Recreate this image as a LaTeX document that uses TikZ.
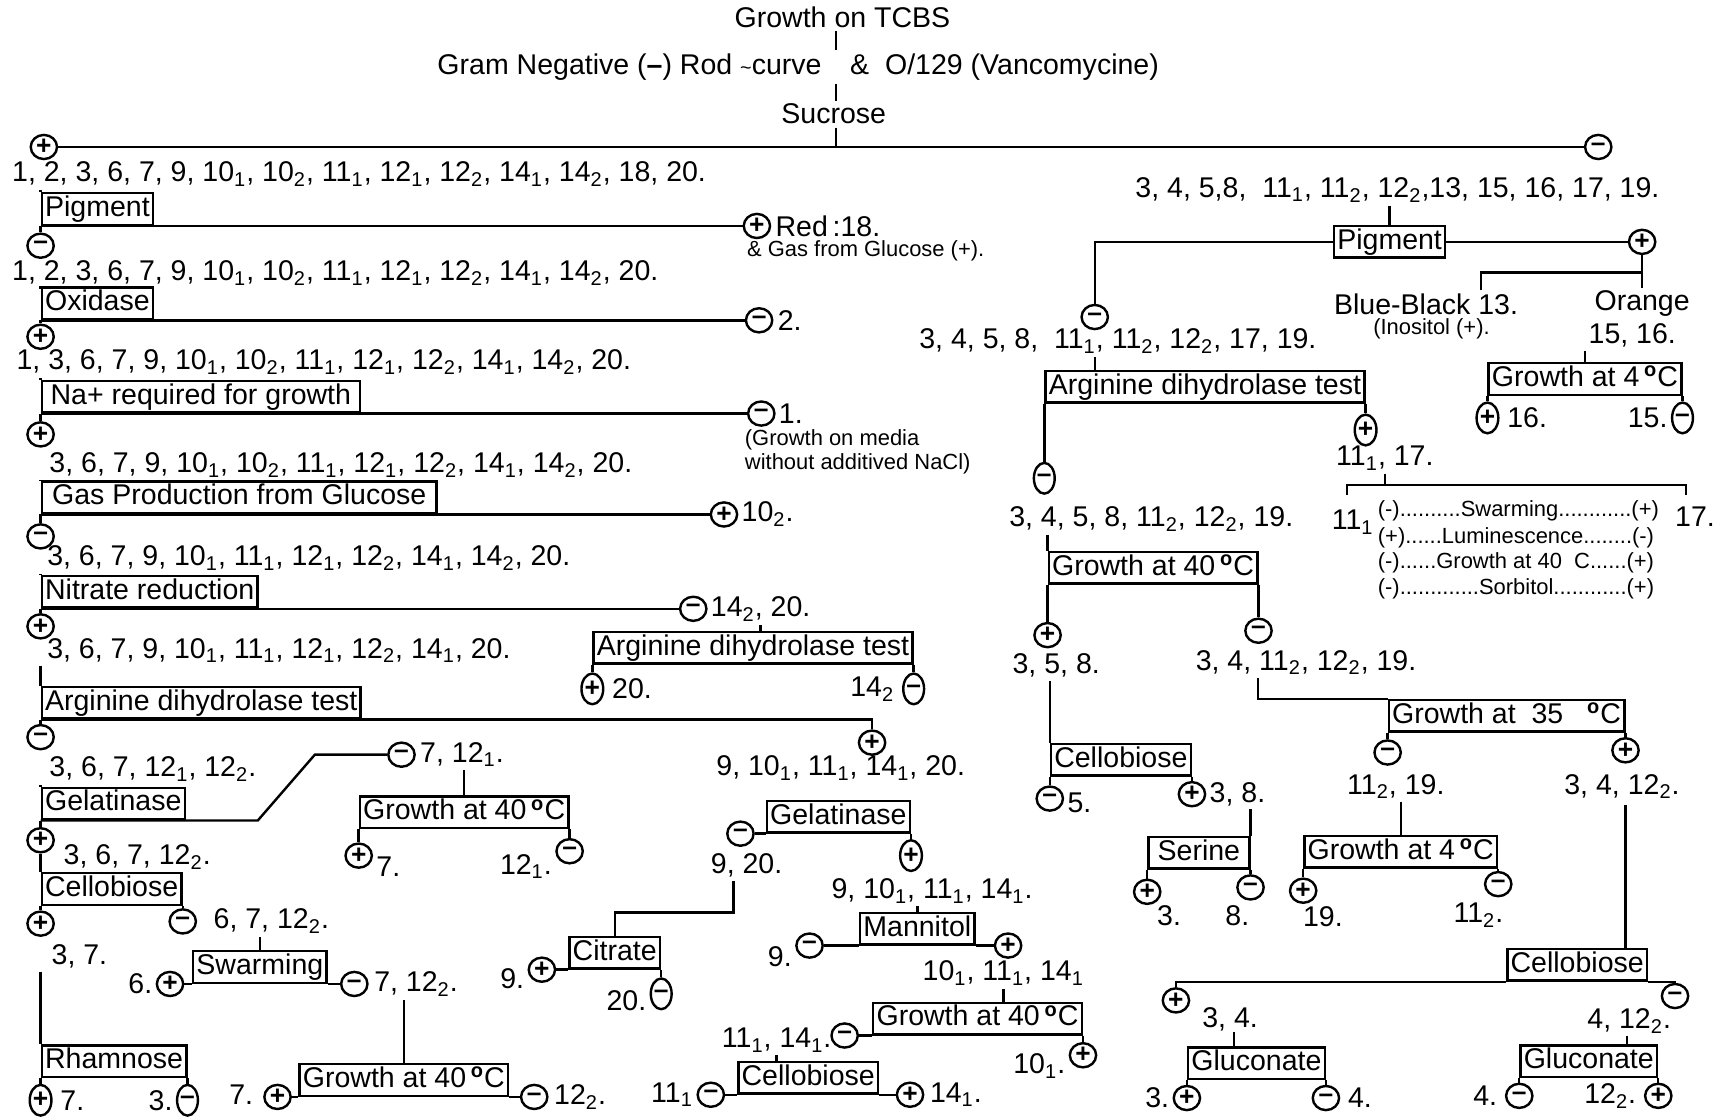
\documentclass[tikz,border=0pt]{standalone}
\usepackage{fontspec}
\setmainfont{Liberation Sans}
\usepackage{tikz}
\usetikzlibrary{shapes.geometric,calc,positioning}
\newcommand{\fsz}[1]{\fontsize{#1}{#1}\selectfont}
\newcommand{\sbs}[1]{\textsubscript{#1}}
\newcommand{\degs}{\textsuperscript{\bfseries o}}
\tikzset{
  testbox/.style={rectangle, draw, inner xsep=1.5pt, inner ysep=1pt,
    text height=9.6pt, text depth=2.8pt, font=\fsz{13}},
  sgn/.style={ellipse, draw, inner sep=0pt, minimum width=12pt,
    minimum height=11pt, font=\fsz{12}\bfseries},
  sgnv/.style={sgn, minimum width=9.5pt, minimum height=14pt},
  hd/.style={inner sep=1pt, font=\fsz{13}},
  lst/.style={hd, anchor=west},
  lstr/.style={hd, anchor=east},
  nte/.style={inner sep=0pt, anchor=west, font=\fsz{10}},
}

\begin{document}
\begin{tikzpicture}[x=0.5pt, y=-0.5pt, line width=1.1pt]
  \fill[white] (0,0) rectangle (1568,1021);
  \useasboundingbox (0,0) rectangle (1568,1021);
  \node[hd] (tcbs) at (768,16) {Growth on TCBS};
  \node[hd, anchor=east] (gram) at (752,61) {Gram Negative (\textbf{–}) Rod {\fsz{9}\textasciitilde}curve};
  \node[hd, anchor=west] (vanc) at (772,61) {\&\ \ O/129 (Vancomycine)};
  \node[hd] (sucr) at (760,104) {Sucrose};
  \coordinate (ax) at (762,61);
  \node[sgn] (suP) at (40,134) {+};
  \node[sgn] (suM) at (1457,134) {–};
  \draw (ax |- tcbs.south) -- (ax |- gram.north);
  \draw (ax |- gram.south) -- (ax |- sucr.north);
  \draw (ax |- sucr.south) -- (ax |- suP);
  \draw (suP) -- (suM);
  % sucrose positive
  \node[lst] (l1) at (8,159) {1, 2, 3, 6, 7, 9, 10\sbs1, 10\sbs2, 11\sbs1, 12\sbs1, 12\sbs2, 14\sbs1, 14\sbs2, 18, 20.};
  \node[testbox, anchor=south west] (pig) at (37,206) {Pigment};
  \node[sgn] (pigP) at (690,206) {+};
  \node[lst] (red) at (704,206) {Red\,:18.};
  \node[nte] (redn) at (680,229) {\& Gas from Glucose (+).};
  \node[sgn] (pigM) at (37,224) {–};
  \draw (pig.north west |- l1.south) -- (pig.north west);
  \draw (pig.south west) -- (pigP);
  \draw (pig.south west) -- (pigM);
  \node[lst] (l2) at (8,249) {1, 2, 3, 6, 7, 9, 10\sbs1, 10\sbs2, 11\sbs1, 12\sbs1, 12\sbs2, 14\sbs1, 14\sbs2, 20.};
  \node[testbox, anchor=south west] (oxi) at (37,292) {Oxidase};
  \node[sgn] (oxiM) at (692,292) {–};
  \node[lst] (t2) at (706,292) {2.};
  \node[sgn] (oxiP) at (37,307) {+};
  \draw (oxi.north west |- l2.south) -- (oxi.north west);
  \draw (oxi.south west) -- (oxiM);
  \draw (oxi.south west) -- (oxiP);
  \node[lst] (l3) at (12,330) {1, 3, 6, 7, 9, 10\sbs1, 10\sbs2, 11\sbs1, 12\sbs1, 12\sbs2, 14\sbs1, 14\sbs2, 20.};
  \node[testbox, anchor=south west, minimum width=145pt] (nab) at (37,377) {Na+ required for growth};
  \node[sgn] (nabM) at (694,377) {–};
  \node[lst] (t1) at (707,377) {1.};
  \node[nte] (nan1) at (678,401) {(Growth on media};
  \node[nte] (nan2) at (678,423) {without additived NaCl)};
  \node[sgn] (nabP) at (37,396) {+};
  \draw (nab.north west |- l3.south) -- (nab.north west);
  \draw (nab.south west) -- (nabM);
  \draw (nab.south west) -- (nabP);
  \node[lst] (l4) at (42,424) {3, 6, 7, 9, 10\sbs1, 10\sbs2, 11\sbs1, 12\sbs1, 12\sbs2, 14\sbs1, 14\sbs2, 20.};
  \node[testbox, anchor=south west, minimum width=180pt] (gas) at (37,469) {Gas Production from Glucose};
  \node[sgn] (gasP) at (660,469) {+};
  \node[lst] (t102) at (673,469) {10\sbs2.};
  \node[sgn] (gasM) at (37,489) {–};
  \draw (gas.north west |- l4.south) -- (gas.north west);
  \draw (gas.south west) -- (gasP);
  \draw (gas.south west) -- (gasM);
  \node[lst] (l5) at (40,509) {3, 6, 7, 9, 10\sbs1, 11\sbs1, 12\sbs1, 12\sbs2, 14\sbs1, 14\sbs2, 20.};
  \node[testbox, anchor=south west] (nit) at (37,555) {Nitrate reduction};
  \node[sgn] (nitM) at (632,555) {–};
  \node[lst] (l5b) at (645,555) {14\sbs2, 20.};
  \node[sgn] (nitP) at (37,571) {+};
  \draw (nit.north west |- l5.south) -- (nit.north west);
  \draw (nit.south west) -- (nitM);
  \draw (nit.south west) -- (nitP);
  \node[testbox, anchor=north west] (arg2) at (540,575) {Arginine dihydrolase test};
  \node[sgnv] (arg2P) at ([yshift=-11pt]arg2.south west) {+};
  \node[sgnv] (arg2M) at ([yshift=-11pt]arg2.south east) {–};
  \node[lst] (t20) at ([xshift=2pt]arg2P.east) {20.};
  \node[lstr] (t142) at ([xshift=-2pt]arg2M.west) {14\sbs2};
  \draw (l5b.south) -- (l5b.south |- arg2.north);
  \draw (arg2.south west) -- (arg2P);
  \draw (arg2.south east) -- (arg2M);
  \node[lst] (l6) at (40,593) {3, 6, 7, 9, 10\sbs1, 11\sbs1, 12\sbs1, 12\sbs2, 14\sbs1, 20.};
  \node[testbox, anchor=south west] (arg) at (37,656) {Arginine dihydrolase test};
  \node[sgn] (argM) at (37,672) {–};
  \node[sgn] (argP) at (795,677) {+};
  \draw (arg.north west |- l6.south) -- (arg.north west);
  \draw (arg.south west) -| (argP);
  \draw (arg.south west) -- (argM);
  % arginine negative
  \node[lst] (l7) at (42,701) {3, 6, 7, 12\sbs1, 12\sbs2.};
  \node[testbox, anchor=south west] (gel) at (37,748) {Gelatinase};
  \node[sgn] (gelM) at (366,688) {–};
  \node[lst] (l8) at (380,688) {7, 12\sbs1.};
  \node[sgn] (gelP) at (37,766) {+};
  \draw (gel.north west |- l7.south) -- (gel.north west);
  \draw (gel.south west) -- (235,748) -- (287,688) -- (gelM);
  \draw (gel.south west) -- (gelP);
  \node[testbox, anchor=south west] (g40a) at (327,756) {Growth at 40\,\degs C};
  \node[sgn] (g40aP) at ([yshift=-12pt]g40a.south west) {+};
  \node[sgn] (g40aM) at ([yshift=-10pt]g40a.south east) {–};
  \node[lst] (t7a) at ([yshift=-5pt]g40aP.east) {7.};
  \node[lstr] (t121) at ([yshift=-7pt]g40aM.west) {12\sbs1.};
  \draw (g40a.north |- l8.south) -- (g40a.north);
  \draw (g40a.south west) -- (g40aP);
  \draw (g40a.south east) -- (g40aM);
  \node[lst] (l9) at (55,781) {3, 6, 7, 12\sbs2.};
  \node[testbox, anchor=south west] (cel) at (37,826) {Cellobiose};
  \node[sgn] (celP) at (37,842) {+};
  \node[sgn] (celM) at ([yshift=-7pt]cel.south east) {–};
  \node[lst] (l10) at ([xshift=6pt]celM.east) {6, 7, 12\sbs2.};
  \draw (gelP) -- (cel.north west);
  \draw (cel.south west) -- (celP);
  \draw (cel.south east) -- (celM);
  \node[lst] (l11) at (44,872) {3, 7.};
  \node[testbox, anchor=south west] (rha) at (37,983) {Rhamnose};
  \node[sgnv] (rhaP) at ([yshift=-10pt]rha.south west) {+};
  \node[sgnv] (rhaM) at ([yshift=-10pt]rha.south east) {–};
  \node[lst] (t7b) at ([xshift=2pt]rhaP.east) {7.};
  \node[lstr] (t3a) at (rhaM.west) {3.};
  \draw (rha.north west |- l11.south) -- (rha.north west);
  \draw (rha.south west) -- (rhaP);
  \draw (rha.south east) -- (rhaM);
  \node[testbox, anchor=south west] (swa) at (175,897) {Swarming};
  \node[sgn] (swaP) at (155,897) {+};
  \node[sgn] (swaM) at (323,897) {–};
  \node[lstr] (t6) at (swaP.west) {6.};
  \node[lst] (l12) at ([xshift=1pt]swaM.east) {7, 12\sbs2.};
  \draw (swa.north |- l10.south) -- (swa.north);
  \draw (swa.south west) -- (swaP);
  \draw (swa.south east) -- (swaM);
  \node[testbox, anchor=south west] (g40b) at (272,1000) {Growth at 40\,\degs C};
  \node[sgn] (g40bP) at (253,1000) {+};
  \node[sgn] (g40bM) at (487,1000) {–};
  \node[lstr] (t7c) at ([xshift=-3pt,yshift=1pt]g40bP.west) {7.};
  \node[lst] (t122) at ([xshift=1pt]g40bM.east) {12\sbs2.};
  \draw (g40b.north |- l12.south) -- (g40b.north);
  \draw (g40b.south west) -- (g40bP);
  \draw (g40b.south east) -- (g40bM);
  % arginine positive
  \node[lst] (l13) at (650,700) {9, 10\sbs1, 11\sbs1, 14\sbs1, 20.};
  \node[testbox, anchor=south west] (ge2) at (698,760) {Gelatinase};
  \node[sgn] (ge2M) at (675,760) {–};
  \node[sgnv] (ge2P) at ([yshift=-10pt]ge2.south east) {+};
  \draw (ge2.south west) -- (ge2M);
  \draw (ge2.south east) -- (ge2P);
  \node[lst] (l14) at (645,789) {9, 20.};
  \node[testbox, anchor=south west] (cit) at (518,884) {Citrate};
  \node[sgn] (citP) at (494,884) {+};
  \node[sgnv] (citM) at ([yshift=-11pt]cit.south east) {–};
  \node[lstr] (t9a) at ([yshift=-4pt]citP.west) {9.};
  \node[lstr] (t20b) at ([yshift=-3pt]citM.west) {20.};
  \draw (l14.south) ++(-12,0) -- ++(0,29) -| (cit.north);
  \draw (cit.south west) -- (citP);
  \draw (cit.south east) -- (citM);
  \node[lst] (l15) at (755,812) {9, 10\sbs1, 11\sbs1, 14\sbs1.};
  \node[testbox, anchor=south west] (man) at (783,862) {Mannitol};
  \node[sgn] (manM) at (738,862) {–};
  \node[sgn] (manP) at (919,862) {+};
  \node[lstr] (t9b) at ([yshift=-5pt]manM.west) {9.};
  \draw (man.north |- l15.south) -- (man.north);
  \draw (man.south west) -- (manM);
  \draw (man.south east) -- (manP);
  \node[lst] (l16) at (838,887) {10\sbs1, 11\sbs1, 14\sbs1};
  \node[testbox, anchor=south west] (g40c) at (795,944) {Growth at 40\,\degs C};
  \node[sgn] (g40cM) at (770,944) {–};
  \node[sgn] (g40cP) at ([yshift=-9pt]g40c.south east) {+};
  \node[lstr] (t101) at ([yshift=-5pt]g40cP.west) {10\sbs1.};
  \draw (l16.south) -- (l16.south |- g40c.north);
  \draw (g40c.south west) -- (g40cM);
  \draw (g40c.south east) -- (g40cP);
  \node[lst] (l17) at (655,948) {11\sbs1, 14\sbs1.};
  \node[testbox, anchor=south west] (ce2) at (672,998) {Cellobiose};
  \node[sgn] (ce2M) at (648,998) {–};
  \node[sgn] (ce2P) at ([xshift=14pt]ce2.south east) {+};
  \node[lstr] (t111) at (ce2M.west) {11\sbs1};
  \node[lst] (t141) at ([xshift=1pt]ce2P.east) {14\sbs1.};
  \draw (l17.south) -- (l17.south |- ce2.north);
  \draw (ce2.south west) -- (ce2M);
  \draw (ce2.south east) -- (ce2P);
  % sucrose negative
  \node[lst] (l18) at (1032,173) {3, 4, 5,8, \ 11\sbs1, 11\sbs2, 12\sbs2,13, 15, 16, 17, 19.};
  \node[testbox, anchor=south west] (pg2) at (1215,236) {Pigment};
  \node[sgn] (pg2M) at (998,289) {–};
  \node[hd] (bb) at (1300,277) {Blue-Black 13.};
  \node[hd] (org) at (1497,277) {Orange};
  \node[sgn] (pg2P) at (pg2.east -| org) {+};
  \node[nte, anchor=center] (inos) at (1305,300) {(Inositol (+).};
  \draw (pg2.north |- l18.south) -- (pg2.north);
  \draw (pg2.west) -| (pg2M);
  \draw (pg2.east) -- (pg2P);
  \draw (pg2P) -- (org);
  \draw (pg2P.south) ++(0,16) -| ([xshift=25pt]bb.north);
  \node[hd] (l19) at (1488,306) {15, 16.};
  \node[testbox, anchor=south west] (g4a) at (1356,361) {Growth at 4\,\degs C};
  \node[sgnv] (g4aP) at ([yshift=-10pt]g4a.south west) {+};
  \node[sgnv] (g4aM) at ([yshift=-10pt]g4a.south east) {–};
  \node[lst] (t16) at ([xshift=2pt]g4aP.east) {16.};
  \node[lstr] (t15) at (g4aM.west) {15.};
  \draw (g4a.north |- l19.south) -- (g4a.north);
  \draw (g4a.south west) -- (g4aP);
  \draw (g4a.south east) -- (g4aM);
  \node[lst] (l20) at (835,311) {3, 4, 5, 8, \ 11\sbs1, 11\sbs2, 12\sbs2, 17, 19.};
  \node[testbox, anchor=south west] (ar3) at (952,368) {Arginine dihydrolase test};
  \node[sgnv] (ar3M) at ([yshift=-34pt]ar3.south west) {–};
  \node[sgnv] (ar3P) at ([yshift=-12pt]ar3.south east) {+};
  \draw (pg2M.south |- l20.south) -- (pg2M.south |- ar3.north);
  \draw (ar3.south west) -- (ar3M);
  \draw (ar3.south east) -- (ar3P);
  \node[lst] (l21) at (1215,418) {11\sbs1, 17.};
  \coordinate (bkl) at (1228,451);
  \coordinate (bkr) at (1537,451);
  \draw (bkl) -- ++(0,-9) -| (bkr);
  \draw (l21.south) -- ++(0,10);
  \node[lst] (l21a) at (1211,476) {11\sbs1};
  \node[lst] (l21b) at (1524,471) {17.};
  \node[nte] (lg1) at (1255,466) {(-)..........Swarming............(+)};
  \node[nte] (lg2) at (1255,490) {(+)......Luminescence........(-)};
  \node[nte] (lg3) at (1255,513) {(-)......Growth at 40\ \ C......(+)};
  \node[nte] (lg4) at (1255,537) {(-).............Sorbitol............(+)};
  \node[lst] (l22) at (917,473) {3, 4, 5, 8, 11\sbs2, 12\sbs2, 19.};
  \node[testbox, anchor=south west] (g40d) at (955,533) {Growth at 40\,\degs C};
  \node[sgn] (g40dP) at ([yshift=-23pt]g40d.south west) {+};
  \node[sgn] (g40dM) at ([yshift=-21pt]g40d.south east) {–};
  \draw (g40d.north west |- l22.south) -- (g40d.north west);
  \draw (g40d.south west) -- (g40dP);
  \draw (g40d.south east) -- (g40dM);
  \node[lst] (l23) at (920,607) {3, 5, 8.};
  \node[lst] (l24) at (1087,604) {3, 4, 11\sbs2, 12\sbs2, 19.};
  \node[testbox, anchor=south west] (ce3) at (957,708) {Cellobiose};
  \node[sgn] (ce3M) at ([yshift=-10pt]ce3.south west) {–};
  \node[sgn] (ce3P) at ([yshift=-8pt]ce3.south east) {+};
  \node[lst] (t5) at ([yshift=-2pt]ce3M.east) {5.};
  \node[lst] (l25) at (ce3P.east) {3, 8.};
  \draw (ce3.north west |- l23.south) -- (ce3.north west);
  \draw (ce3.south west) -- (ce3M);
  \draw (ce3.south east) -- (ce3P);
  \node[testbox, anchor=south east, minimum width=46pt] (ser) at (1140,793) {Serine};
  \node[sgn] (serP) at ([yshift=-10pt]ser.south west) {+};
  \node[sgn] (serM) at ([yshift=-8pt]ser.south east) {–};
  \node[hd] (t3b) at ([xshift=10pt,yshift=-11pt]serP) {3.};
  \node[hd] (t8) at ([xshift=-6pt,yshift=-13pt]serM) {8.};
  \draw (ser.north east |- l25.south) -- (ser.north east);
  \draw (ser.south west) -- (serP);
  \draw (ser.south east) -- (serM);
  \node[testbox, anchor=south west] (g35) at (1265,668) {Growth at\ \ 35\ \ \ \degs C};
  \node[sgn] (g35M) at ([yshift=-9pt]g35.south west) {–};
  \node[sgn] (g35P) at ([yshift=-8pt]g35.south east) {+};
  \draw ($(l24.south west)+(60,0)$) |- (g35.north west);
  \draw (g35.south west) -- (g35M);
  \draw (g35.south east) -- (g35P);
  \node[lst] (l26) at (1225,717) {11\sbs2, 19.};
  \node[testbox, anchor=south west] (g4b) at (1188,792) {Growth at 4\,\degs C};
  \node[sgn] (g4bP) at ([yshift=-10pt]g4b.south west) {+};
  \node[sgn] (g4bM) at ([yshift=-7pt]g4b.south east) {–};
  \node[hd] (t19) at ([xshift=9pt,yshift=-12pt]g4bP) {19.};
  \node[hd] (t112) at ([xshift=-9pt,yshift=-14pt]g4bM) {11\sbs2.};
  \draw (g4b.north |- l26.south) -- (g4b.north);
  \draw (g4b.south west) -- (g4bP);
  \draw (g4b.south east) -- (g4bM);
  \node[lst] (l27) at (1423,717) {3, 4, 12\sbs2.};
  \node[testbox, anchor=south west] (ce4) at (1373,895) {Cellobiose};
  \node[sgn] (ce4P) at (1072,912) {+};
  \node[sgn] (ce4M) at (1527,908) {–};
  \coordinate (c27) at (1482,734);
  \draw (c27) -- (c27 |- ce4.north);
  \draw (ce4.south west) -| (ce4P);
  \draw (ce4.south east) -| (ce4M);
  \node[lst] (l28) at (1093,929) {3, 4.};
  \node[testbox, anchor=south west] (gl1) at (1082,985) {Gluconate};
  \node[sgn] (gl1P) at ([yshift=-8pt]gl1.south west) {+};
  \node[sgn] (gl1M) at ([yshift=-8pt]gl1.south east) {–};
  \node[lstr] (t3c) at (gl1P.west) {3.};
  \node[lst] (t4a) at ([xshift=2pt]gl1M.east) {4.};
  \coordinate (c28) at (1125,941);
  \draw (c28) -- (c28 |- gl1.north);
  \draw (gl1.south west) -- (gl1P);
  \draw (gl1.south east) -- (gl1M);
  \node[lst] (l29) at (1444,931) {4, 12\sbs2.};
  \node[testbox, anchor=south west] (gl2) at (1385,983) {Gluconate};
  \node[sgn] (gl2M) at ([yshift=-8pt]gl2.south west) {–};
  \node[sgn] (gl2P) at ([yshift=-8pt]gl2.south east) {+};
  \node[lstr] (t4b) at ([xshift=-2pt]gl2M.west) {4.};
  \node[lstr] (t122b) at ([xshift=-2pt]gl2P.west) {12\sbs2.};
  \coordinate (c29) at (1483,944);
  \draw (c29) -- (c29 |- gl2.north);
  \draw (gl2.south west) -- (gl2M);
  \draw (gl2.south east) -- (gl2P);
\end{tikzpicture}
\end{document}
